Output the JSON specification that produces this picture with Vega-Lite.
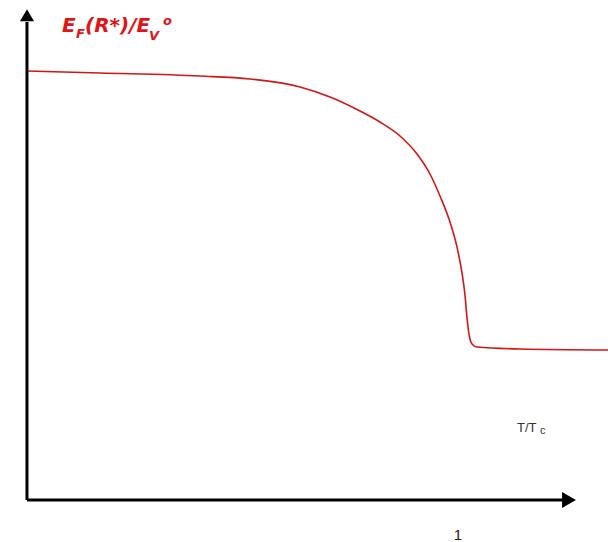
{
  "$schema": "https://vega.github.io/schema/vega-lite/v6.json",
  "width": 608,
  "height": 542,
  "padding": 0,
  "autosize": "none",
  "background": "white",
  "config": {"view": {"stroke": null}},
  "datasets": {
    "curve": [
      {"t": 0.0, "e": 1.0},
      {"t": 0.1694, "e": 0.9953},
      {"t": 0.4014, "e": 0.9883},
      {"t": 0.5174, "e": 0.9814},
      {"t": 0.6334, "e": 0.9627},
      {"t": 0.703, "e": 0.9394},
      {"t": 0.7726, "e": 0.9068},
      {"t": 0.819, "e": 0.8811},
      {"t": 0.8654, "e": 0.8485},
      {"t": 0.9049, "e": 0.8065},
      {"t": 0.935, "e": 0.7599},
      {"t": 0.9582, "e": 0.7086},
      {"t": 0.9814, "e": 0.6480},
      {"t": 0.9977, "e": 0.5897},
      {"t": 1.0093, "e": 0.5291},
      {"t": 1.0162, "e": 0.4779},
      {"t": 1.0209, "e": 0.4242},
      {"t": 1.0255, "e": 0.3869},
      {"t": 1.0325, "e": 0.3636},
      {"t": 1.0441, "e": 0.3566},
      {"t": 1.1439, "e": 0.3520},
      {"t": 1.348, "e": 0.3497}
    ],
    "anchor": [{}]
  },
  "layer": [
    {
      "data": {"name": "curve"},
      "mark": {"type": "line", "color": "#d41515", "strokeWidth": 1.6, "interpolate": "monotone"},
      "encoding": {
        "x": {"field": "t", "type": "quantitative", "axis": null, "scale": {"domain": [-0.0626, 1.348], "nice": false, "zero": false}},
        "y": {"field": "e", "type": "quantitative", "axis": null, "scale": {"domain": [-0.0979, 1.1655], "nice": false, "zero": false}}
      }
    },
    {
      "data": {"name": "anchor"},
      "mark": {"type": "rule", "color": "black", "strokeWidth": 3},
      "encoding": {
        "x": {"datum": 0, "type": "quantitative"},
        "x2": {"datum": 1.248},
        "y": {"datum": 0, "type": "quantitative"}
      }
    },
    {
      "data": {"name": "anchor"},
      "mark": {"type": "rule", "color": "black", "strokeWidth": 3},
      "encoding": {
        "x": {"datum": 0, "type": "quantitative"},
        "y": {"datum": 0, "type": "quantitative"},
        "y2": {"datum": 1.114}
      }
    },
    {
      "data": {"name": "anchor"},
      "mark": {"type": "point", "shape": "triangle-right", "filled": true, "color": "black", "opacity": 1, "size": 256},
      "encoding": {
        "x": {"datum": 1.2575, "type": "quantitative"},
        "y": {"datum": 0, "type": "quantitative"}
      }
    },
    {
      "data": {"name": "anchor"},
      "mark": {"type": "point", "shape": "triangle-up", "filled": true, "color": "black", "opacity": 1, "size": 196},
      "encoding": {
        "x": {"datum": 0, "type": "quantitative"},
        "y": {"datum": 1.13, "type": "quantitative"}
      }
    },
    {
      "data": {"name": "anchor"},
      "mark": {"type": "text", "text": "E", "font": "DejaVu Sans", "fontSize": 20, "fontWeight": "bold", "fontStyle": "italic", "color": "#e01515", "align": "left", "baseline": "alphabetic"},
      "encoding": {"x": {"datum": 0.0812, "type": "quantitative"}, "y": {"datum": 1.0909, "type": "quantitative"}}
    },
    {
      "data": {"name": "anchor"},
      "mark": {"type": "text", "text": "F", "font": "DejaVu Sans", "fontSize": 13, "fontWeight": "bold", "fontStyle": "italic", "color": "#e01515", "align": "left", "baseline": "alphabetic"},
      "encoding": {"x": {"datum": 0.1137, "type": "quantitative"}, "y": {"datum": 1.077, "type": "quantitative"}}
    },
    {
      "data": {"name": "anchor"},
      "mark": {"type": "text", "text": "(R*)/E", "font": "DejaVu Sans", "fontSize": 20, "fontWeight": "bold", "fontStyle": "italic", "color": "#e01515", "align": "left", "baseline": "alphabetic"},
      "encoding": {"x": {"datum": 0.1346, "type": "quantitative"}, "y": {"datum": 1.0909, "type": "quantitative"}}
    },
    {
      "data": {"name": "anchor"},
      "mark": {"type": "text", "text": "V", "font": "DejaVu Sans", "fontSize": 13, "fontWeight": "bold", "fontStyle": "italic", "color": "#e01515", "align": "left", "baseline": "alphabetic"},
      "encoding": {"x": {"datum": 0.2830, "type": "quantitative"}, "y": {"datum": 1.0723, "type": "quantitative"}}
    },
    {
      "data": {"name": "anchor"},
      "mark": {"type": "text", "text": "o", "font": "DejaVu Sans", "fontSize": 13, "fontWeight": "bold", "fontStyle": "italic", "color": "#e01515", "align": "left", "baseline": "alphabetic"},
      "encoding": {"x": {"datum": 0.3155, "type": "quantitative"}, "y": {"datum": 1.1072, "type": "quantitative"}}
    },
    {
      "data": {"name": "anchor"},
      "mark": {"type": "text", "text": "T/T", "font": "Liberation Sans", "fontSize": 13, "color": "#333333", "align": "left", "baseline": "alphabetic"},
      "encoding": {"x": {"datum": 1.1369, "type": "quantitative"}, "y": {"datum": 0.1585, "type": "quantitative"}}
    },
    {
      "data": {"name": "anchor"},
      "mark": {"type": "text", "text": "c", "font": "Liberation Sans", "fontSize": 11, "color": "#333333", "align": "left", "baseline": "alphabetic"},
      "encoding": {"x": {"datum": 1.1903, "type": "quantitative"}, "y": {"datum": 0.1538, "type": "quantitative"}}
    },
    {
      "data": {"name": "anchor"},
      "mark": {"type": "text", "text": "1", "font": "Liberation Sans", "fontSize": 15, "color": "#222222", "align": "center", "baseline": "alphabetic"},
      "encoding": {"x": {"datum": 1.0, "type": "quantitative"}, "y": {"datum": -0.0932, "type": "quantitative"}}
    }
  ]
}
